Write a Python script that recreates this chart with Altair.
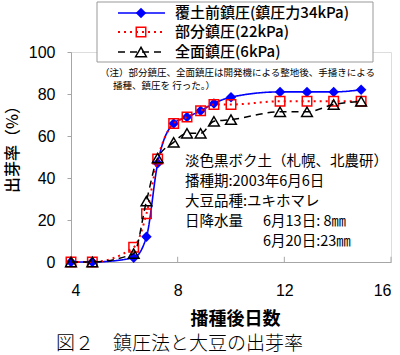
import altair as alt
import pandas as pd

# ---- data ----
days = [4, 4.8, 6.35, 6.83, 7.25, 7.85, 8.35, 8.86, 9.36, 10, 11.84, 12.85, 13.85, 14.88]
before_cover = [0, 0, 2, 12, 47, 66, 69, 72, 75.5, 78.5, 81, 81, 81, 82]
partial = [0, 0, 7, 23, 49, 66, 69, 72, 75, 75, 76.5, 76.5, 76.5, 76.5]
full = [0, 0, 4, 29, 49.5, 57, 61.3, 61.3, 67, 67.8, 71.5, 71.5, 75, 76.5]

series_names = ["覆土前鎮圧(鎮圧力34kPa)", "部分鎮圧(22kPa)", "全面鎮圧(6kPa)"]
x_ticks = [4, 8, 12, 16]
y_ticks = [0, 20, 40, 60, 80, 100]

note_lines = ["（注）部分鎮圧、全面鎮圧は開発機による整地後、手播きによる", "播種、鎮圧を 行った。）"]
info_lines = ["淡色黒ボク土（札幌、北農研）", "播種期:2003年6月6日", "大豆品種:ユキホマレ", "日降水量"]
rain_lines = ["6月13日:  8㎜", "6月20日:23㎜"]
caption = "図２　鎮圧法と大豆の出芽率"

JP = "Noto Sans CJK JP"
NUM = "Liberation Sans"
GRAY = "#a6a6a6"

styles = [
    dict(color="#0000FF", dash=[1, 0], width=1.6, shape="diamond", filled=True, size=110),
    dict(color="#FF0000", dash=[2, 4], width=2, shape="square", filled=False, size=90),
    dict(color="#000000", dash=[7, 5], width=1.5, shape="triangle-up", filled=False, size=115),
]
values = [before_cover, partial, full]

x_enc = alt.X(
    "day:Q",
    scale=alt.Scale(domain=[4, 16], nice=False, zero=False),
    axis=alt.Axis(
        values=x_ticks, ticks=False, labelPadding=20, labelFont=NUM, labelFontSize=16,
        labelColor="black", domainColor=GRAY, grid=False, title="播種後日数",
        titleFont=JP, titleFontSize=18, titleFontWeight="bold", titleColor="black",
        titleX=164, titleY=57, titleBaseline="middle", titleAnchor="middle",
    ),
)
y_enc = alt.Y(
    "rate:Q",
    scale=alt.Scale(domain=[0, 100], nice=False),
    axis=alt.Axis(
        values=y_ticks, tickSize=4, tickColor=GRAY, labelPadding=12, labelFont=NUM,
        labelFontSize=16, labelColor="black", domainColor=GRAY, grid=False,
        title="出芽率（%）", titleFont=JP, titleFontSize=16, titleFontWeight=500,
        titleColor="black", titleX=-59, titleY=93, titleBaseline="middle", titleAngle=-90,
    ),
)

layers = []

# x-axis inward ticks (drawn via the data scales)
tick_df = pd.DataFrame({"day": x_ticks, "rate": [0] * len(x_ticks), "top": [2.5] * len(x_ticks)})
layers.append(
    alt.Chart(tick_df).mark_rule(color=GRAY, strokeWidth=1).encode(x=x_enc, y=y_enc, y2="top:Q")
)

for name, vals, st in zip(series_names, values, styles):
    df = pd.DataFrame({"day": days, "rate": vals, "series": name})
    base = alt.Chart(df).encode(x=x_enc, y=y_enc)
    line = base.mark_line(
        color=st["color"], strokeDash=st["dash"], strokeWidth=st["width"], interpolate="monotone"
    )
    pts = base.mark_point(
        shape=st["shape"], filled=st["filled"], color=st["color"], size=st["size"],
        strokeWidth=1.5, opacity=1,
    )
    layers += [line, pts]

one = pd.DataFrame({"a": [0]})

# legend box
layers.append(
    alt.Chart(one).mark_rect(fill="white", stroke="#999999", strokeWidth=1).encode(
        x=alt.value(26), x2=alt.value(302), y=alt.value(-50), y2=alt.value(10)
    )
)
row_y = [-39, -20, 0]
for name, st, ry in zip(series_names, styles, row_y):
    layers.append(
        alt.Chart(one).mark_rule(color=st["color"], strokeDash=st["dash"], strokeWidth=st["width"]).encode(
            x=alt.value(47), x2=alt.value(94), y=alt.value(ry)
        )
    )
    layers.append(
        alt.Chart(one).mark_point(
            shape=st["shape"], filled=st["filled"], color=st["color"], size=st["size"],
            strokeWidth=1.5, opacity=1,
        ).encode(x=alt.value(70), y=alt.value(ry))
    )
    layers.append(
        alt.Chart(one).mark_text(
            text=name, align="left", baseline="middle", font=JP, fontSize=15, fontWeight=500,
            color="black"
        ).encode(x=alt.value(104), y=alt.value(ry))
    )

# note
for txt, nx, ny in zip(note_lines, [29, 42], [21, 34]):
    layers.append(
        alt.Chart(one).mark_text(
            text=txt, align="left", baseline="middle", font=JP, fontSize=9.5, color="black"
        ).encode(x=alt.value(nx), y=alt.value(ny))
    )

# info block
for txt, iy in zip(info_lines, [110, 130, 150, 170]):
    layers.append(
        alt.Chart(one).mark_text(
            text=txt, align="left", baseline="middle", font=JP, fontSize=14.5, color="black"
        ).encode(x=alt.value(114), y=alt.value(iy))
    )
for txt, iy in zip(rain_lines, [170, 190]):
    layers.append(
        alt.Chart(one).mark_text(
            text=txt, align="left", baseline="middle", font=JP, fontSize=14.5, color="black"
        ).encode(x=alt.value(192), y=alt.value(iy))
    )

# caption
layers.append(
    alt.Chart(one).mark_text(
        text=caption, align="left", baseline="middle", font=JP, fontSize=19, fontWeight=300,
        color="black"
    ).encode(x=alt.value(-15), y=alt.value(292))
)

chart = (
    alt.layer(*layers)
    .properties(
        width=320, height=210,
        autosize=alt.AutoSizeParams(type="none"),
        padding={"left": 71, "top": 52, "right": 9, "bottom": 93},
    )
    .configure_view(stroke=None)
    .configure(background="white")
)

chart.save("out.html", embed_options={"renderer": "svg", "actions": False})
